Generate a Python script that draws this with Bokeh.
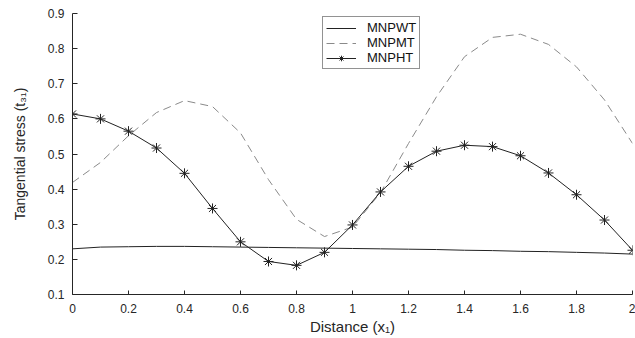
from bokeh.plotting import figure
from bokeh.models import FixedTicker
from bokeh.embed import file_html
from bokeh.resources import INLINE

# ---- data ----
distance = [0.0, 0.1, 0.2, 0.3, 0.4, 0.5, 0.6, 0.7, 0.8, 0.9, 1.0,
            1.1, 1.2, 1.3, 1.4, 1.5, 1.6, 1.7, 1.8, 1.9, 2.0]
mnpwt = [0.230, 0.235, 0.236, 0.237, 0.237, 0.236, 0.235, 0.234, 0.233, 0.232, 0.231,
         0.230, 0.229, 0.228, 0.226, 0.225, 0.223, 0.222, 0.220, 0.218, 0.215]
mnpmt = [0.419, 0.476, 0.552, 0.618, 0.652, 0.635, 0.560, 0.427, 0.314, 0.265, 0.292,
         0.390, 0.530, 0.663, 0.777, 0.832, 0.841, 0.812, 0.748, 0.654, 0.530]
mnpht = [0.614, 0.600, 0.565, 0.517, 0.445, 0.345, 0.250, 0.194, 0.183, 0.220, 0.298,
         0.392, 0.465, 0.508, 0.525, 0.521, 0.495, 0.446, 0.384, 0.312, 0.226]

x_ticks = [0, 0.2, 0.4, 0.6, 0.8, 1.0, 1.2, 1.4, 1.6, 1.8, 2.0]
x_tick_labels = ["0", "0.2", "0.4", "0.6", "0.8", "1", "1.2", "1.4", "1.6", "1.8", "2"]
y_ticks = [0.1, 0.2, 0.3, 0.4, 0.5, 0.6, 0.7, 0.8, 0.9]
y_tick_labels = ["0.1", "0.2", "0.3", "0.4", "0.5", "0.6", "0.7", "0.8", "0.9"]

FONT = "Liberation Sans"
AX = "#262626"

p = figure(width=635, height=338, x_range=(0, 2), y_range=(0.1, 0.9),
           output_backend="svg", toolbar_location=None,
           min_border_left=72, min_border_right=3, min_border_top=13, min_border_bottom=44)
p.outline_line_color = None
p.xgrid.visible = False
p.ygrid.visible = False
p.background_fill_color = "white"
p.border_fill_color = "white"

p.line(distance, mnpwt, line_color="#222222", line_width=1, legend_label="MNPWT")
p.line(distance, mnpmt, line_color="#8a8a8a", line_width=1, line_dash="8 5", legend_label="MNPMT")
p.line(distance, mnpht, line_color="#222222", line_width=1, legend_label="MNPHT")
p.scatter(distance, mnpht, marker="asterisk", size=10, line_color="#222222", line_width=1,
          legend_label="MNPHT")

for ax, ticks, labels in ((p.xaxis[0], x_ticks, x_tick_labels), (p.yaxis[0], y_ticks, y_tick_labels)):
    ax.ticker = FixedTicker(ticks=ticks, minor_ticks=[])
    ax.major_label_overrides = {t: l for t, l in zip(ticks, labels)}
    ax.axis_line_color = AX
    ax.axis_line_width = 1
    ax.major_tick_line_color = AX
    ax.major_tick_out = 0
    ax.minor_tick_line_color = None
    ax.major_label_text_font = FONT
    ax.major_label_text_font_size = "12px"
    ax.major_label_text_color = AX
    ax.axis_label_text_font = FONT
    ax.axis_label_text_font_style = "normal"
    ax.axis_label_text_color = AX

p.xaxis.axis_label_text_font_size = "15px"
p.yaxis.axis_label_text_font_size = "14px"
p.xaxis.major_tick_in = 4
p.yaxis.major_tick_in = 5
p.xaxis.major_label_standoff = 9
p.yaxis.major_label_standoff = 8
p.xaxis.axis_label = "Distance (x\u2081)"
p.yaxis.axis_label = "Tangential stress (t\u2083\u2081)"
p.xaxis.axis_label_standoff = 2
p.yaxis.axis_label_standoff = 17

lg = p.legend[0]
lg.location = (250, 225)
lg.orientation = "vertical"
lg.border_line_color = AX
lg.border_line_width = 1
lg.background_fill_color = "white"
lg.background_fill_alpha = 1
lg.label_text_font = FONT
lg.label_text_font_size = "13px"
lg.label_text_color = "#111111"
lg.glyph_width = 30
lg.glyph_height = 14
lg.label_height = 14
lg.label_standoff = 11
lg.padding = 3
lg.spacing = 0
lg.margin = 0

open("out.html", "w").write(file_html(p, INLINE))
